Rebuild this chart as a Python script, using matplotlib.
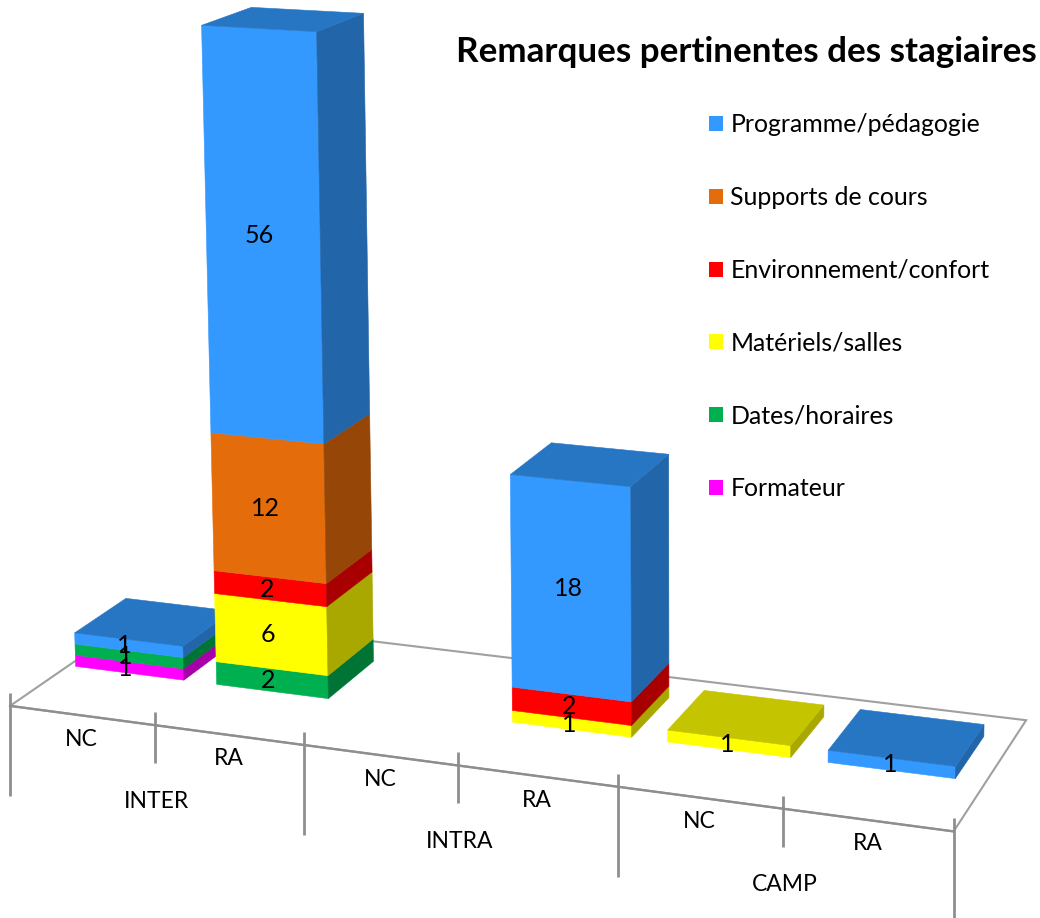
import numpy as np
import matplotlib
matplotlib.use("Agg")
import matplotlib.pyplot as plt
from matplotlib.patches import Polygon, Patch
from matplotlib.colors import to_rgb

# ---------- data ----------
title = "Remarques pertinentes des stagiaires"
groups = ["INTER", "INTRA", "CAMP"]
categories = ["NC", "RA", "NC", "RA", "NC", "RA"]
series_names = ["Programme/pédagogie", "Supports de cours", "Environnement/confort",
                "Matériels/salles", "Dates/horaires", "Formateur"]
programme = [1, 56, 0, 18, 0, 1]
supports = [0, 12, 0, 0, 0, 0]
environnement = [0, 2, 0, 2, 0, 0]
materiels = [0, 6, 0, 1, 1, 0]
dates = [1, 2, 0, 0, 0, 0]
formateur = [1, 0, 0, 0, 0, 0]
series_colors = ["#3399FF", "#E46C0A", "#FF0000", "#FFFF00", "#00B050", "#FF00FF"]
axis_max = 56.5   # the value axis is capped: the tallest stack is cut off here

series = [programme, supports, environnement, materiels, dates, formateur]

# ---------- 3-D scale: camera fitted on the floor and on the reference's box corners ----------
X0, X1, Y0, Y1 = 0.05, 0.82, 0.42, 0.81
Z = axis_max
floor_anchors = [
    (0, 0, 0, 13, 706), (1, 0, 0, 156, 725), (2, 0, 0, 304, 744), (3, 0, 0, 458, 765),
    (4, 0, 0, 618, 787), (5, 0, 0, 781, 808), (6, 0, 0, 953, 831), (6, 1, 0, 1023, 719),
    (0, 1, 0, 146, 613),
]
box_anchors = [
    (0 + X0, Y0, 0, 72, 667), (0 + X1, Y0, 0, 182, 680), (0 + X0, Y0, 3, 71, 633),
    (0 + X1, Y0, 3, 182, 647), (0 + X0, Y1, 3, 125, 598),
    (1 + X0, Y0, 0, 213, 686), (1 + X1, Y0, 0, 328, 699), (1 + X1, Y1, 0, 374, 661),
    (1 + X0, Y0, 2, 213, 663), (1 + X1, Y0, 2, 327, 676), (1 + X1, Y1, 2, 373, 640),
    (1 + X0, Y0, 10, 212, 571), (1 + X0, Y0, 22, 208, 430), (1 + X1, Y0, 22, 322, 442),
    (1 + X1, Y1, 22, 373, 413),
    (1 + X0, Y0, Z, 198, 26), (1 + X1, Y0, Z, 317, 32), (1 + X1, Y1, Z, 367, 16),
    (1 + X0, Y1, Z, 249, 9),
    (3 + X0, Y0, 0, 511, 725), (3 + X1, Y0, 0, 633, 738), (3 + X0, Y0, 3, 511, 688),
    (3 + X1, Y0, 3, 632, 702), (3 + X0, Y0, 21, 511, 473), (3 + X1, Y0, 21, 634, 483),
    (3 + X1, Y1, 21, 673, 452), (3 + X0, Y1, 21, 552, 441),
    (4 + X0, Y0, 0, 667, 743), (4 + X1, Y0, 0, 793, 759), (4 + X0, Y0, 1, 667, 731),
    (4 + X1, Y0, 1, 793, 747), (4 + X1, Y1, 1, 825, 705), (4 + X0, Y1, 1, 705, 690),
    (5 + X0, Y0, 0, 828, 764), (5 + X1, Y0, 0, 958, 780), (5 + X0, Y0, 1, 828, 752),
    (5 + X1, Y0, 1, 958, 768), (5 + X1, Y1, 1, 986, 725), (5 + X0, Y1, 1, 860, 710),
]
anchors = floor_anchors * 3 + box_anchors


def fit_camera(pts):
    pts = np.asarray(pts, float)
    w = np.ones(len(pts))
    for _ in range(15):
        A, b = [], []
        for (x, y, z, u, v), wi in zip(pts, w):
            A.append(np.array([x, y, z, 1, 0, 0, 0, 0, -u * x, -u * y, -u * z]) / wi)
            b.append(u / wi)
            A.append(np.array([0, 0, 0, 0, x, y, z, 1, -v * x, -v * y, -v * z]) / wi)
            b.append(v / wi)
        p = np.linalg.lstsq(np.array(A), np.array(b), rcond=None)[0]
        P = np.append(p, 1.0).reshape(3, 4)
        w = P[2, 0] * pts[:, 0] + P[2, 1] * pts[:, 1] + P[2, 2] * pts[:, 2] + P[2, 3]
    return P


P = fit_camera(anchors)


def proj(x, y, z):
    h = P @ np.array([x, y, z, 1.0])
    return h[0] / h[2], h[1] / h[2]


def shade(c, f):
    return tuple(np.array(to_rgb(c)) * f)


# ---------- figure ----------
plt.rcParams["font.family"] = ["Lato", "DejaVu Sans"]
fig = plt.figure(figsize=(10.4, 9.18), dpi=100)
ax = fig.add_axes([0, 0, 1, 1])
ax.set_xlim(0, 1040)
ax.set_ylim(918, 0)
ax.axis("off")

GRAY = "#8E8E8E"
# floor
floor = [proj(0, 0, 0), proj(6, 0, 0), proj(6, 1, 0), proj(0, 1, 0)]
ax.add_patch(Polygon(floor, closed=True, fc="white", ec="#A0A0A0", lw=1.5, zorder=1))
fx, fy = proj(0, 0, 0), proj(6, 0, 0)
ax.plot([fx[0], fy[0]], [fx[1], fy[1]], color=GRAY, lw=1.7, zorder=1.1)

# ticks and axis labels
for i in range(7):
    x, y = proj(i, 0, 0)
    below = 90 if i % 2 == 0 else 38
    ax.plot([x, x], [y - 13, y + below], color=GRAY, lw=2.0, solid_capstyle="butt", zorder=1.2)
for i, c in enumerate(categories):
    x, y = proj(i + 0.5, 0, 0)
    ax.text(x, y + 24, c, ha="center", va="center", fontsize=16.5, color="black", zorder=5)
for g, name in enumerate(groups):
    x, y = proj(2 * g + 1, 0, 0)
    ax.text(x + 2, y + 76, name, ha="center", va="center", fontsize=16.5, color="black", zorder=5)

# stacked 3-D columns, bottom series first
zo = 2.0
for i in range(len(categories)):
    base = 0.0
    labels = []
    top_col = None
    for vals, col in zip(series[::-1], series_colors[::-1]):
        v = vals[i]
        if v == 0:
            continue
        z0, z1 = min(base, axis_max), min(base + v, axis_max)
        x0, x1 = i + X0, i + X1
        ax.add_patch(Polygon([proj(x0, Y0, z0), proj(x1, Y0, z0), proj(x1, Y0, z1), proj(x0, Y0, z1)],
                             closed=True, fc=col, ec=col, lw=0.4, zorder=zo))
        ax.add_patch(Polygon([proj(x1, Y0, z0), proj(x1, Y1, z0), proj(x1, Y1, z1), proj(x1, Y0, z1)],
                             closed=True, fc=shade(col, 0.66), ec=shade(col, 0.66), lw=0.4, zorder=zo))
        labels.append((proj((x0 + x1) / 2, Y0, (z0 + z1) / 2), v))
        base += v
        top_col, top_z = col, z1
    if top_col is not None:
        x0, x1 = i + X0, i + X1
        ax.add_patch(Polygon([proj(x0, Y0, top_z), proj(x1, Y0, top_z), proj(x1, Y1, top_z), proj(x0, Y1, top_z)],
                             closed=True, fc=shade(top_col, 0.77), ec=shade(top_col, 0.77), lw=0.4, zorder=zo))
    for (lx, ly), v in labels:
        ax.text(lx - 4 + 0.6 * i, ly + 0.5, str(v), ha="center", va="center", fontsize=18, color="black", zorder=6)
    zo += 0.1

# title and legend
ax.text(746, 52, title, ha="center", va="center", fontsize=25.2, fontweight="bold", color="black", zorder=7)
handles = [Patch(fc=c, ec=c, lw=0) for c in series_colors]
ax.legend(handles, series_names, loc="upper left", bbox_to_anchor=(709 / 1040, 1 - 113.5 / 918),
          frameon=False, borderpad=0, borderaxespad=0, fontsize=17.9,
          handlelength=0.56, handleheight=0.56, handletextpad=0.3, labelspacing=2.0)

fig.savefig("out.png", dpi=100)
